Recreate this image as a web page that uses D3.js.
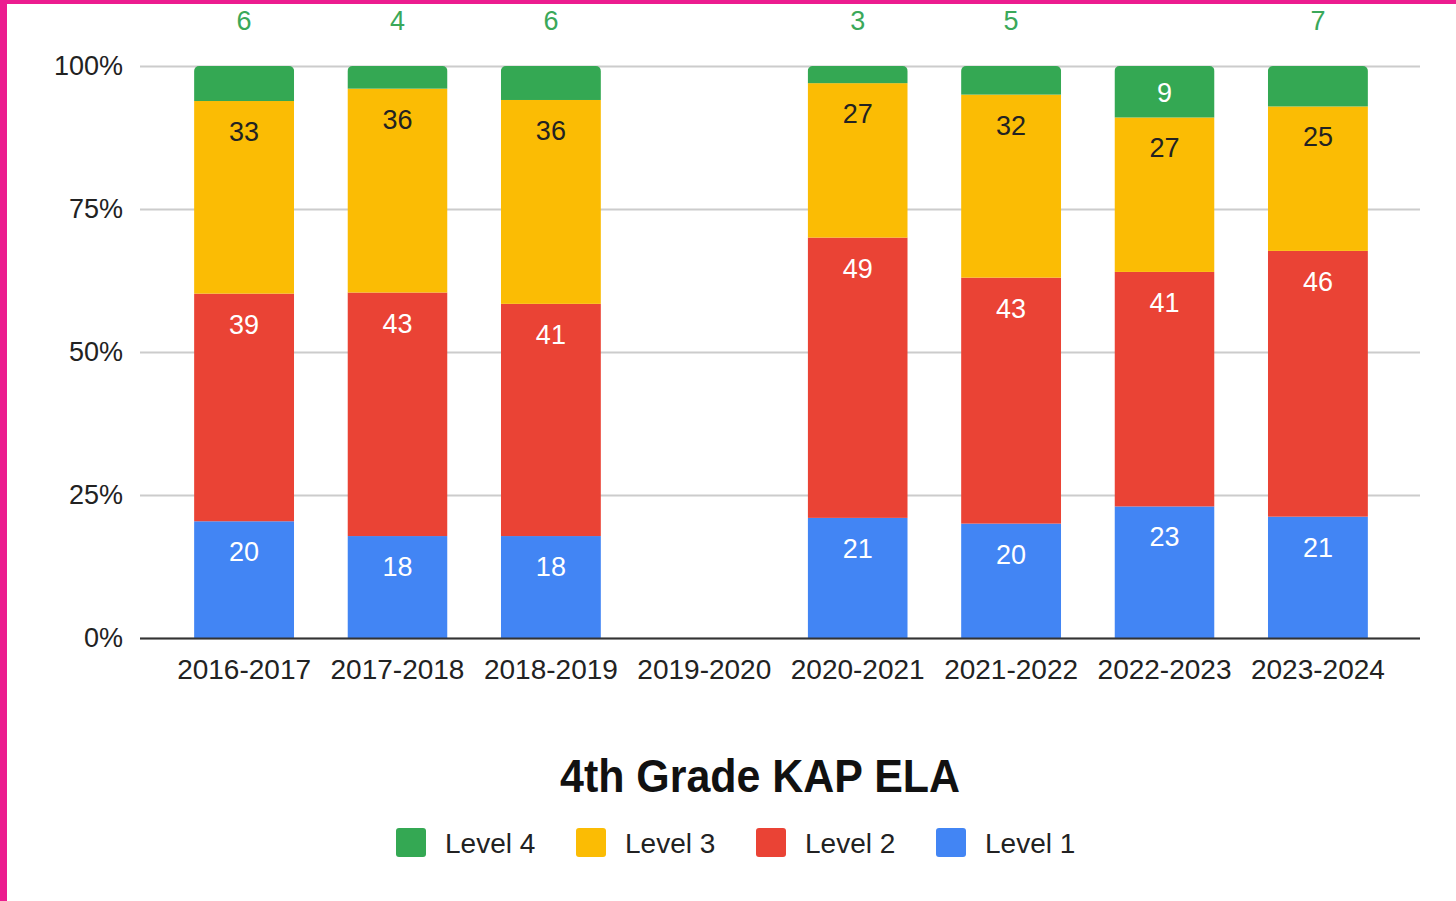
<!DOCTYPE html>
<html>
<head>
<meta charset="utf-8">
<script src="https://cdn.jsdelivr.net/npm/d3@7"></script>
<style>
  body { margin: 0; background: #fff; }
  svg { display: block; font-family: "Liberation Sans", Arial, sans-serif; }
</style>
</head>
<body>
<div id="chart"></div>
<script>
// school years and level percentages (2019-2020 has no data)
var years = ["2016-2017", "2017-2018", "2018-2019", "2019-2020", "2020-2021", "2021-2022", "2022-2023", "2023-2024"];
var level1 = [20, 18, 18, null, 21, 20, 23, 21];
var level2 = [39, 43, 41, null, 49, 43, 41, 46];
var level3 = [33, 36, 36, null, 27, 32, 27, 25];
var level4 = [6, 4, 6, null, 3, 5, 9, 7];
var levelNames = ["Level 1", "Level 2", "Level 3", "Level 4"];
var levelColors = ["#4285f4", "#ea4335", "#fbbc04", "#34a853"];
var labelColors = ["#ffffff", "#ffffff", "#222222", "#ffffff"];
var yTicks = [0, 0.25, 0.5, 0.75, 1];

var W = 1456, H = 901;
var margin = { top: 66, left: 140, right: 36, bottom: 263 };
var width = W - margin.left - margin.right;
var height = H - margin.top - margin.bottom;

var svg = d3.select("#chart").append("svg")
    .attr("width", W)
    .attr("height", H);

// magenta frame on left and top edges
svg.append("rect").attr("x", 0).attr("y", 0).attr("width", 7).attr("height", H).attr("fill", "#ec1c8f");
svg.append("rect").attr("x", 0).attr("y", 0).attr("width", W).attr("height", 4).attr("fill", "#ec1c8f");

var g = svg.append("g")
    .attr("transform", "translate(" + margin.left + "," + margin.top + ")");

var table = years.map(function(y, i) {
    return { year: y, l1: level1[i] || 0, l2: level2[i] || 0, l3: level3[i] || 0, l4: level4[i] || 0,
             has: level1[i] != null };
});
var keys = ["l1", "l2", "l3", "l4"];

var stack = d3.stack().keys(keys).offset(d3.stackOffsetExpand);
var series = stack(table.filter(function(d) { return d.has; }));

var x = d3.scaleBand()
    .domain(years)
    .range([1, width + 1])
    .paddingInner(0.348)
    .paddingOuter(0.346);

var y = d3.scaleLinear()
    .domain([0, 1])
    .range([height, 0]);

// gridlines
g.append("g")
    .attr("class", "grid")
    .call(d3.axisLeft(y).tickValues(yTicks).tickSize(-width).tickFormat(""))
    .call(function(s) {
        s.select(".domain").remove();
        s.selectAll("line").attr("stroke", "#cccccc").attr("stroke-width", 2);
    });

// y labels
g.append("g")
    .call(d3.axisLeft(y).tickValues(yTicks).tickSize(0).tickPadding(17).tickFormat(d3.format(".0%")))
    .call(function(s) {
        s.select(".domain").remove();
        s.selectAll("text").attr("font-size", "27px").attr("fill", "#222").attr("font-family", "Liberation Sans, Arial, sans-serif");
    });

// bars, clipped for rounded tops
var defs = svg.append("defs");
table.forEach(function(d, i) {
    if (!d.has) return;
    defs.append("clipPath").attr("id", "clip" + i)
        .append("rect")
        .attr("x", x(d.year))
        .attr("y", y(1))
        .attr("width", x.bandwidth())
        .attr("height", height + 10)
        .attr("rx", 5);
});

series.forEach(function(s, k) {
    g.append("g")
        .selectAll("rect")
        .data(s).enter()
        .append("rect")
            .attr("clip-path", function(d) { return "url(#clip" + years.indexOf(d.data.year) + ")"; })
            .attr("x", function(d) { return x(d.data.year); })
            .attr("y", function(d) { return y(d[1]); })
            .attr("width", x.bandwidth())
            .attr("height", function(d) { return y(d[0]) - y(d[1]); })
            .attr("fill", levelColors[k]);
});

// value labels
series.forEach(function(s, k) {
    var key = keys[k];
    s.forEach(function(d) {
        var top = y(d[1]), bot = y(d[0]);
        var h = bot - top;
        var cx = x(d.data.year) + x.bandwidth() / 2;
        var val = d.data[key];
        if (h >= 45) {
            g.append("text")
                .attr("x", cx)
                .attr("y", Math.min(top + 40, (top + bot) / 2 + 10))
                .attr("text-anchor", "middle")
                .attr("font-size", "27px")
                .attr("fill", labelColors[k])
                .text(val);
        } else {
            g.append("text")
                .attr("x", cx)
                .attr("y", 30 - margin.top)
                .attr("text-anchor", "middle")
                .attr("font-size", "27px")
                .attr("fill", "#3aa85a")
                .text(val);
        }
    });
});

// x axis
g.append("g")
    .attr("transform", "translate(0," + height + ")")
    .call(d3.axisBottom(x).tickSize(0).tickPadding(21))
    .call(function(s) {
        s.select(".domain").remove();
        s.selectAll("text").attr("font-size", "28px").attr("fill", "#222").attr("font-family", "Liberation Sans, Arial, sans-serif");
    });
g.append("line")
    .attr("x1", 0).attr("x2", width)
    .attr("y1", height + 0.5).attr("y2", height + 0.5)
    .attr("stroke", "#333").attr("stroke-width", 2);

// title
svg.append("text")
    .attr("x", 760)
    .attr("y", 792)
    .attr("text-anchor", "middle")
    .attr("font-size", "46px")
    .attr("font-weight", "bold")
    .attr("fill", "#111")
    .attr("textLength", 400)
    .attr("lengthAdjust", "spacingAndGlyphs")
    .text("4th Grade KAP ELA");

// legend (reversed order: Level 4 first)
var legendOrder = [3, 2, 1, 0];
var legend = svg.append("g").attr("transform", "translate(396,828)");
legendOrder.forEach(function(k, i) {
    var item = legend.append("g").attr("transform", "translate(" + (i * 180) + ",0)");
    item.append("rect")
        .attr("width", 30).attr("height", 29).attr("rx", 3)
        .attr("fill", levelColors[k]);
    item.append("text")
        .attr("x", 49).attr("y", 25)
        .attr("font-size", "28px")
        .attr("fill", "#222")
        .text(levelNames[k]);
});
</script>
</body>
</html>
